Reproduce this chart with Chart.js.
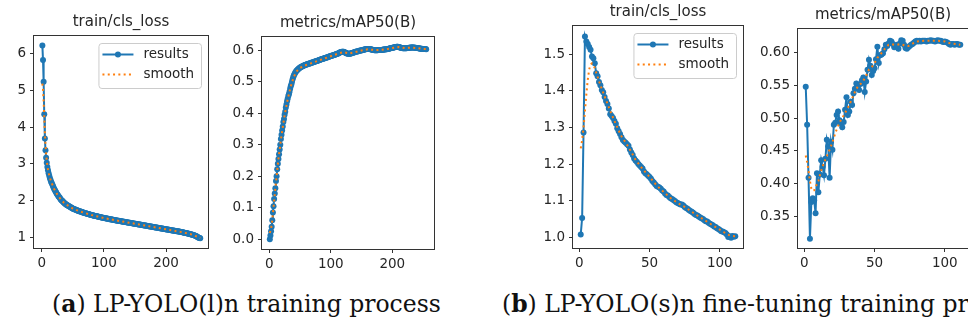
<!DOCTYPE html>
<html>
<head>
<meta charset="utf-8">
<title>LP-YOLO training curves</title>
<script src="https://cdn.jsdelivr.net/npm/chart.js@4.4.1/dist/chart.umd.min.js"></script>
<style>
  html, body { margin: 0; padding: 0; background: #fff; }
  body { width: 968px; height: 325px; position: relative; overflow: hidden; }
  .plot { position: absolute; top: 0; }
  .caption {
    position: absolute; top: 293px; white-space: nowrap;
    font-family: "DejaVu Serif", serif; font-size: 23.5px; line-height: 1; color: #111;
  }
</style>
</head>
<body>
<canvas class="plot" id="loss-a" width="212" height="280" style="left:0px"></canvas>
<canvas class="plot" id="map-a" width="213" height="280" style="left:225px"></canvas>
<canvas class="plot" id="loss-b" width="217" height="280" style="left:530px"></canvas>
<canvas class="plot" id="map-b" width="217" height="280" style="left:755px"></canvas>
<div class="caption" style="left:52px">(<b>a</b>) LP-YOLO(l)n training process</div>
<div class="caption" style="left:502px">(<b>b</b>) LP-YOLO(s)n fine-tuning training process</div>

<script>
// (a) LP-YOLO(l)n, one value per epoch starting at epoch 1
const lossA = [
  6.21, 5.82, 5.23, 4.35, 3.69, 3.37, 3.17, 3.03, 2.92, 2.83,
  2.75, 2.68, 2.62, 2.57, 2.52, 2.48, 2.44, 2.40, 2.36, 2.32,
  2.29, 2.26, 2.23, 2.20, 2.17, 2.15, 2.12, 2.10, 2.08, 2.05,
  2.03, 2.01, 2.00, 1.98, 1.96, 1.95, 1.93, 1.92, 1.90, 1.89,
  1.88, 1.87, 1.86, 1.85, 1.84, 1.83, 1.82, 1.81, 1.80, 1.79,
  1.78, 1.775, 1.77, 1.76, 1.755, 1.75, 1.74, 1.735, 1.725, 1.72,
  1.715, 1.71, 1.705, 1.70, 1.69, 1.685, 1.68, 1.675, 1.67, 1.665,
  1.66, 1.655, 1.65, 1.645, 1.64, 1.635, 1.63, 1.625, 1.62, 1.615,
  1.61, 1.606, 1.602, 1.598, 1.594, 1.59, 1.586, 1.582, 1.578, 1.574,
  1.570, 1.566, 1.562, 1.558, 1.554, 1.550, 1.546, 1.542, 1.538, 1.534,
  1.531, 1.527, 1.524, 1.520, 1.517, 1.513, 1.510, 1.506, 1.503, 1.500,
  1.497, 1.493, 1.490, 1.487, 1.484, 1.481, 1.477, 1.474, 1.471, 1.468,
  1.465, 1.462, 1.459, 1.456, 1.453, 1.450, 1.447, 1.444, 1.441, 1.438,
  1.435, 1.432, 1.429, 1.426, 1.423, 1.420, 1.417, 1.414, 1.411, 1.408,
  1.405, 1.402, 1.399, 1.396, 1.393, 1.390, 1.387, 1.384, 1.381, 1.378,
  1.375, 1.372, 1.369, 1.366, 1.363, 1.360, 1.357, 1.354, 1.351, 1.348,
  1.345, 1.342, 1.339, 1.336, 1.333, 1.330, 1.327, 1.324, 1.321, 1.318,
  1.315, 1.312, 1.309, 1.306, 1.303, 1.300, 1.297, 1.294, 1.291, 1.288,
  1.285, 1.282, 1.279, 1.276, 1.273, 1.270, 1.267, 1.264, 1.261, 1.258,
  1.255, 1.252, 1.249, 1.246, 1.243, 1.240, 1.237, 1.234, 1.231, 1.228,
  1.225, 1.222, 1.219, 1.216, 1.213, 1.210, 1.207, 1.204, 1.201, 1.198,
  1.195, 1.192, 1.189, 1.186, 1.183, 1.180, 1.177, 1.174, 1.171, 1.168,
  1.165, 1.162, 1.158, 1.155, 1.151, 1.148, 1.144, 1.141, 1.137, 1.133,
  1.129, 1.125, 1.121, 1.117, 1.113, 1.109, 1.105, 1.100, 1.096, 1.091,
  1.086, 1.081, 1.076, 1.071, 1.065, 1.059, 1.052, 1.045, 1.036, 1.025,
  1.012, 1.003, 0.995, 0.988, 0.982
];
const smoothEpochsLossA = [1, 2, 3, 4, 5, 6, 7, 8, 10, 12, 15, 20, 25, 30, 35, 40, 50, 60, 70, 80,
  90, 100, 125, 150, 175, 200, 225, 240, 250, 255];
const smoothLossA = [5.18, 5.02, 4.70, 4.28, 3.86, 3.52, 3.27, 3.09, 2.85, 2.69, 2.52, 2.32, 2.17, 2.05, 1.96, 1.89, 1.79, 1.72, 1.665, 1.615,
  1.574, 1.534, 1.453, 1.378, 1.303, 1.228, 1.151, 1.092, 1.028, 0.99];

const mapA = [
  0.000, 0.012, 0.025, 0.040, 0.060, 0.085, 0.105, 0.128, 0.145, 0.162,
  0.185, 0.200, 0.222, 0.240, 0.255, 0.270, 0.285, 0.300, 0.318, 0.332,
  0.345, 0.358, 0.372, 0.382, 0.395, 0.405, 0.418, 0.428, 0.438, 0.446,
  0.455, 0.460, 0.468, 0.478, 0.486, 0.492, 0.500, 0.508, 0.514, 0.520,
  0.524, 0.528, 0.531, 0.534, 0.536, 0.538, 0.540, 0.542, 0.543, 0.545,
  0.546, 0.547, 0.548, 0.549, 0.550, 0.551, 0.552, 0.553, 0.554, 0.554,
  0.555, 0.556, 0.556, 0.557, 0.558, 0.558, 0.559, 0.560, 0.560, 0.561,
  0.562, 0.562, 0.563, 0.564, 0.564, 0.565, 0.566, 0.566, 0.567, 0.568,
  0.569, 0.569, 0.570, 0.571, 0.571, 0.572, 0.573, 0.573, 0.574, 0.575,
  0.575, 0.576, 0.577, 0.577, 0.578, 0.579, 0.579, 0.580, 0.581, 0.582,
  0.582, 0.583, 0.583, 0.584, 0.585, 0.585, 0.586, 0.587, 0.588, 0.588,
  0.589, 0.590, 0.591, 0.592, 0.593, 0.594, 0.594, 0.595, 0.595, 0.595,
  0.595, 0.594, 0.593, 0.592, 0.591, 0.590, 0.590, 0.589, 0.589, 0.589,
  0.589, 0.590, 0.590, 0.591, 0.591, 0.592, 0.593, 0.593, 0.594, 0.595,
  0.595, 0.596, 0.596, 0.597, 0.597, 0.598, 0.598, 0.599, 0.599, 0.600,
  0.600, 0.601, 0.601, 0.602, 0.602, 0.603, 0.603, 0.604, 0.604, 0.604,
  0.604, 0.604, 0.604, 0.603, 0.603, 0.602, 0.602, 0.601, 0.601, 0.601,
  0.600, 0.600, 0.600, 0.600, 0.600, 0.600, 0.601, 0.601, 0.601, 0.601,
  0.601, 0.601, 0.601, 0.601, 0.602, 0.602, 0.602, 0.602, 0.603, 0.603,
  0.603, 0.604, 0.604, 0.605, 0.605, 0.606, 0.606, 0.607, 0.607, 0.608,
  0.608, 0.609, 0.609, 0.610, 0.610, 0.610, 0.611, 0.611, 0.611, 0.610,
  0.610, 0.609, 0.609, 0.608, 0.607, 0.607, 0.606, 0.606, 0.606, 0.606,
  0.606, 0.606, 0.606, 0.607, 0.607, 0.607, 0.608, 0.608, 0.608, 0.609,
  0.609, 0.609, 0.609, 0.609, 0.609, 0.608, 0.608, 0.608, 0.607, 0.607,
  0.607, 0.606, 0.606, 0.606, 0.605, 0.605, 0.605, 0.605, 0.604, 0.604,
  0.604, 0.604, 0.604, 0.604, 0.603
];
const smoothEpochsMapA = [1, 3, 5, 8, 10, 15, 20, 25, 30, 35, 40, 45, 50,
  60, 70, 80, 90, 100, 110, 120, 130, 140, 150, 160, 170, 180, 190, 200, 210, 220, 230, 240, 250, 255];
const smoothMapA = [0.020, 0.033, 0.060, 0.122, 0.162, 0.255, 0.330, 0.393, 0.444, 0.485, 0.516, 0.534, 0.544,
  0.553, 0.560, 0.567, 0.574, 0.581, 0.588, 0.594, 0.590, 0.594, 0.599, 0.603, 0.601, 0.601, 0.603, 0.607, 0.610, 0.607, 0.608, 0.607, 0.604, 0.604];

// (b) LP-YOLO(s)n fine-tuning, one value per epoch starting at epoch 1
const lossB = [
  1.008, 1.053, 1.286, 1.548, 1.535, 1.528, 1.520, 1.512, 1.494, 1.489,
  1.475, 1.448, 1.440, 1.424, 1.415, 1.402, 1.396, 1.383, 1.372, 1.364,
  1.352, 1.336, 1.331, 1.326, 1.318, 1.310, 1.298, 1.290, 1.282, 1.273,
  1.266, 1.262, 1.258, 1.254, 1.250, 1.240, 1.232, 1.225, 1.215, 1.210,
  1.206, 1.200, 1.196, 1.192, 1.188, 1.180, 1.175, 1.172, 1.168, 1.165,
  1.160, 1.154, 1.150, 1.145, 1.140, 1.138, 1.136, 1.133, 1.128, 1.125,
  1.120, 1.116, 1.114, 1.110, 1.107, 1.105, 1.102, 1.099, 1.096, 1.094,
  1.092, 1.090, 1.090, 1.087, 1.083, 1.080, 1.078, 1.075, 1.072, 1.070,
  1.067, 1.064, 1.061, 1.060, 1.057, 1.054, 1.052, 1.050, 1.047, 1.044,
  1.043, 1.040, 1.037, 1.035, 1.033, 1.030, 1.028, 1.025, 1.023, 1.020,
  1.017, 1.016, 1.014, 1.012, 1.008, 1.001, 1.003, 0.999, 1.004, 1.002, 1.003
];
const smoothEpochsLossB = [1, 2, 3, 4, 5, 6, 7, 8, 9, 10, 11, 12, 14, 16, 18, 20, 22,
  25, 28, 30, 33, 36, 40, 45, 50, 55, 60, 65, 70, 75, 80, 85, 90, 95, 100, 105, 108, 111];
const smoothLossB = [1.243, 1.265, 1.300, 1.345, 1.390, 1.430, 1.458, 1.472, 1.475, 1.470, 1.462, 1.450, 1.427, 1.405, 1.385, 1.365, 1.345,
  1.318, 1.292, 1.276, 1.259, 1.240, 1.212, 1.187, 1.165, 1.142, 1.124, 1.107, 1.094, 1.083, 1.070, 1.057, 1.045, 1.033, 1.021, 1.009, 1.004, 1.003];

const mapB = [
  0.548, 0.490, 0.409, 0.316, 0.372, 0.378, 0.375, 0.355, 0.416, 0.387,
  0.414, 0.436, 0.426, 0.413, 0.438, 0.467, 0.457, 0.409, 0.464, 0.452,
  0.490, 0.493, 0.505, 0.510, 0.497, 0.492, 0.486, 0.494, 0.513, 0.532,
  0.505, 0.510, 0.525, 0.520, 0.538, 0.545, 0.553, 0.548, 0.543, 0.552,
  0.558, 0.562, 0.540, 0.556, 0.574, 0.589, 0.580, 0.566, 0.572, 0.576,
  0.590, 0.609, 0.584, 0.596, 0.597, 0.599, 0.605, 0.612, 0.610, 0.614,
  0.618, 0.617, 0.613, 0.608, 0.610, 0.612, 0.606, 0.614, 0.619, 0.618,
  0.612, 0.607, 0.606, 0.608, 0.610, 0.612, 0.613, 0.615, 0.617, 0.618,
  0.617, 0.618, 0.617, 0.618, 0.618, 0.618, 0.617, 0.618, 0.618, 0.619,
  0.618, 0.618, 0.617, 0.618, 0.619, 0.618, 0.618, 0.617, 0.616, 0.617,
  0.616, 0.615, 0.613, 0.612, 0.613, 0.613, 0.612, 0.613, 0.613, 0.612, 0.612
];
const smoothEpochsMapB = [1, 2, 3, 4, 5, 6, 7, 8, 10, 12, 14, 16, 18, 20, 22, 24, 26, 28, 30, 32, 34, 36, 38, 40,
  42, 44, 46, 48, 50, 52, 54, 56, 58, 60, 62, 64, 66, 68, 70, 72, 74, 76, 78, 80, 85, 90, 95, 100, 104, 108, 111];
const smoothMapB = [0.443, 0.433, 0.420, 0.404, 0.393, 0.389, 0.390, 0.395, 0.404, 0.420, 0.432, 0.442, 0.452, 0.463, 0.477, 0.488,
  0.497, 0.504, 0.512, 0.520, 0.530, 0.540, 0.548, 0.552, 0.557, 0.565, 0.574, 0.578, 0.584, 0.592, 0.597, 0.602, 0.608,
  0.612, 0.613, 0.612, 0.612, 0.613, 0.612, 0.610, 0.610, 0.612, 0.615, 0.617, 0.618, 0.618, 0.618, 0.617, 0.614, 0.613, 0.612];

// tick labels
const epochTicksA = [0, 100, 200];
const epochTicksB = [0, 50, 100];
const lossTicksA = [1, 2, 3, 4, 5, 6];
const mapTicksA = [0.0, 0.1, 0.2, 0.3, 0.4, 0.5, 0.6];
const lossTicksB = [1.0, 1.1, 1.2, 1.3, 1.4, 1.5];
const mapTicksB = [0.35, 0.40, 0.45, 0.50, 0.55, 0.60];

const BLUE = '#1f77b4';
const ORANGE = '#ff7f0e';
const INK = '#262626';
const FONT = 'DejaVu Sans';
const TICK_SIZE = 13.5;

Chart.defaults.font.family = FONT;

// matplotlib-like frame, axes title, and a legend drawn inside the axes (upper right)
const axesDecor = {
  id: 'axesDecor',
  afterDraw(chart, args, opts) {
    const { ctx, chartArea: a } = chart;
    ctx.save();
    ctx.strokeStyle = '#333';
    ctx.lineWidth = 1;
    ctx.strokeRect(Math.round(a.left) - 0.5, Math.round(a.top) - 0.5,
      Math.round(a.right - a.left) + 1, Math.round(a.bottom - a.top) + 1);

    ctx.font = `15px ${FONT}`;
    ctx.fillStyle = INK;
    ctx.textAlign = 'center';
    ctx.textBaseline = 'middle';
    ctx.fillText(opts.title, (a.left + a.right) / 2, a.top - 13.5);

    if (opts.legend) {
      const sets = chart.data.datasets;
      ctx.font = `${TICK_SIZE}px ${FONT}`;
      const textW = Math.max(...sets.map(d => ctx.measureText(d.label).width));
      const pad = 4, lineLen = 31, gap = 10;
      const w = pad + lineLen + gap + textW + 7;
      const h = 45;
      const x = a.right - 7 - w;
      const y = a.top + 7;
      ctx.beginPath();
      ctx.roundRect(x + 0.5, y + 0.5, w, h, 3);
      ctx.fillStyle = 'rgba(255,255,255,0.8)';
      ctx.fill();
      ctx.strokeStyle = '#cccccc';
      ctx.stroke();
      sets.forEach((d, i) => {
        const cy = y + 11.5 + i * 20;
        ctx.beginPath();
        ctx.strokeStyle = d.borderColor;
        ctx.lineWidth = d.borderWidth;
        ctx.setLineDash(d.borderDash || []);
        ctx.moveTo(x + pad, cy);
        ctx.lineTo(x + pad + lineLen, cy);
        ctx.stroke();
        ctx.setLineDash([]);
        if (d.pointRadius > 0) {
          ctx.beginPath();
          ctx.fillStyle = d.borderColor;
          ctx.arc(x + pad + lineLen / 2, cy, d.pointRadius, 0, Math.PI * 2);
          ctx.fill();
        }
        ctx.fillStyle = INK;
        ctx.textBaseline = 'middle';
        ctx.textAlign = 'left';
        ctx.fillText(d.label, x + pad + lineLen + gap, cy);
      });
    }
    ctx.restore();
  }
};

function makePlot(id, cfg) {
  const tickFont = { family: FONT, size: TICK_SIZE };
  return new Chart(document.getElementById(id), {
    type: 'line',
    data: {
      datasets: [
        {
          label: 'results',
          data: cfg.values.map((v, i) => ({ x: i + 1, y: v })),
          borderColor: BLUE,
          backgroundColor: BLUE,
          borderWidth: 2,
          pointRadius: 3,
          pointBorderWidth: 0,
          pointBackgroundColor: BLUE,
          tension: 0,
          order: 1
        },
        {
          label: 'smooth',
          data: cfg.smoothX.map((x, i) => ({ x: x, y: cfg.smoothY[i] })),
          borderColor: ORANGE,
          borderWidth: 2,
          borderDash: [2, 3.3],
          pointRadius: 0,
          tension: 0,
          order: 0
        }
      ]
    },
    options: {
      responsive: false,
      animation: false,
      events: [],
      layout: { padding: { left: 0, right: 4, top: cfg.plotTop, bottom: 0 } },
      plugins: {
        legend: { display: false },
        tooltip: { enabled: false },
        title: { display: false },
        axesDecor: { title: cfg.title, legend: cfg.legend }
      },
      scales: {
        x: {
          type: 'linear',
          min: cfg.xRange[0],
          max: cfg.xRange[1],
          afterFit: s => { s.height = cfg.xAxisH; },
          afterBuildTicks: s => { s.ticks = cfg.xTicks.map(v => ({ value: v })); },
          ticks: { color: INK, font: tickFont, padding: 3, maxRotation: 0, autoSkip: false,
            callback: v => String(v) },
          grid: { drawOnChartArea: false, drawTicks: true, tickLength: 4, color: '#333' },
          border: { display: false }
        },
        y: {
          type: 'linear',
          min: cfg.yRange[0],
          max: cfg.yRange[1],
          afterFit: s => { s.width = cfg.yAxisW; },
          afterBuildTicks: s => { s.ticks = cfg.yTicks.map(v => ({ value: v })); },
          ticks: { color: INK, font: tickFont, padding: 4, autoSkip: false,
            callback: v => v.toFixed(cfg.yDec) },
          grid: { drawOnChartArea: false, drawTicks: true, tickLength: 4, color: '#333' },
          border: { display: false }
        }
      }
    },
    plugins: [axesDecor]
  });
}

makePlot('loss-a', {
  title: 'train/cls_loss', values: lossA, smoothX: smoothEpochsLossA, smoothY: smoothLossA,
  xTicks: epochTicksA, yTicks: lossTicksA, yDec: 0, legend: true,
  xRange: [-12.5, 267.5], yRange: [0.72, 6.47], yAxisW: 34, xAxisH: 32, plotTop: 36
});
makePlot('map-a', {
  title: 'metrics/mAP50(B)', values: mapA, smoothX: smoothEpochsMapA, smoothY: smoothMapA,
  xTicks: epochTicksA, yTicks: mapTicksA, yDec: 1, legend: false,
  xRange: [-11.7, 267.7], yRange: [-0.031, 0.642], yAxisW: 37, xAxisH: 31, plotTop: 37
});
makePlot('loss-b', {
  title: 'train/cls_loss', values: lossB, smoothX: smoothEpochsLossB, smoothY: smoothLossB,
  xTicks: epochTicksB, yTicks: lossTicksB, yDec: 1, legend: true,
  xRange: [-4.5, 116.5], yRange: [0.971, 1.577], yAxisW: 43, xAxisH: 32, plotTop: 26
});
makePlot('map-b', {
  title: 'metrics/mAP50(B)', values: mapB, smoothX: smoothEpochsMapB, smoothY: smoothMapB,
  xTicks: epochTicksB, yTicks: mapTicksB, yDec: 2, legend: false,
  xRange: [-4.5, 116.5], yRange: [0.302, 0.636], yAxisW: 43, xAxisH: 32, plotTop: 29
});
</script>
</body>
</html>
